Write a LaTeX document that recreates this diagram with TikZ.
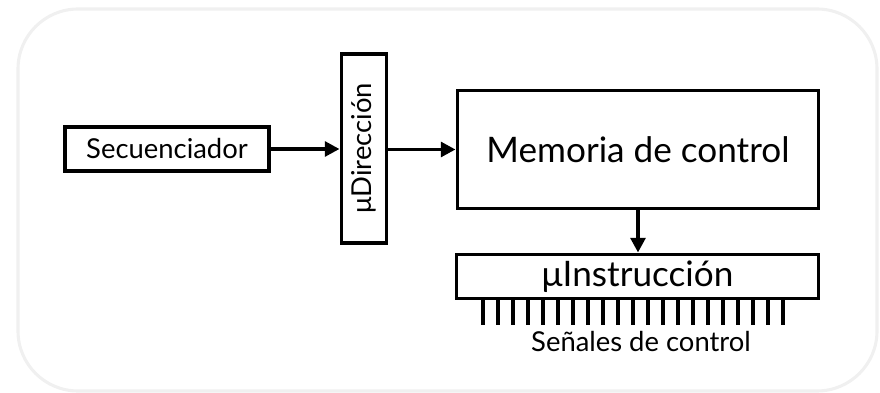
\documentclass[tikz,border=0pt]{standalone}
\usepackage{fontspec}
\setmainfont{Lato}
\usetikzlibrary{arrows.meta}

\tikzset{
  blk/.style={draw, line width=2.8pt, inner sep=0pt},
  flow/.style={line width=2.8pt, -{Triangle[length=10.5pt,width=10.5pt]}},
  tick/.style={line width=2.6pt},
  small/.style={font=\fontsize{19.5}{22}\selectfont},
  big/.style={font=\fontsize{25}{28}\selectfont},
}

\begin{document}
\begin{tikzpicture}
    \useasboundingbox (0,0) rectangle (22,-9.825);
    % frame
    \draw[gray!12, line width=2.2pt, rounded corners=1.5cm] (0.45,-0.225) rectangle (21.925,-9.775);

    \node[blk, small, minimum width=5.1cm, minimum height=1.1cm] (seq) at (4.175,-3.725) {Secuenciador};
    \node[blk, small, minimum width=4.725cm, minimum height=1.125cm, rotate=90] (udir) at (9.1,-3.7125) {μDirección};
    \node[blk, big, minimum width=9.025cm, minimum height=2.95cm] (mem) at (15.95,-3.7375) {Memoria de control};
    \node[blk, big, minimum width=9.05cm, minimum height=1.1cm] (uins) at (15.9375,-6.9125) {μInstrucción};

    \draw[flow] (seq.east) -- (seq.east -| udir.north);
    \draw[flow] (udir.south |- mem.west) -- (mem.west);
    \draw[flow] (mem.south) -- (mem.south |- uins.north);

    % control lines
    \foreach \k in {0,...,20}
      \draw[tick] ([xshift=0.7125cm+\k*0.375cm]uins.south west) -- ++(0,-0.6125);
    \node[small] (sig) at (16.025,-8.55) {Señales de control};

\end{tikzpicture}
\end{document}
